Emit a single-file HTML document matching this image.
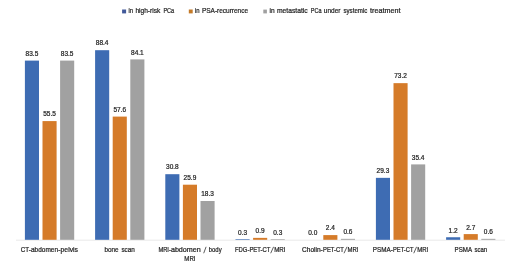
<!DOCTYPE html><html><head><meta charset="utf-8"><style>html,body{margin:0;padding:0;background:#fff}svg{display:block;will-change:transform;opacity:0.999}text{font-family:"Liberation Sans",sans-serif;fill:#262626;stroke:#262626;stroke-width:0.22px}</style></head><body>
<svg width="520" height="271" viewBox="0 0 520 271">
<rect width="520" height="271" fill="#fff"/>
<rect x="16" y="239.7" width="489" height="0.9" fill="#e6e6e6"/>
<rect x="24.90" y="60.60" width="14.1" height="179.20" fill="#3E6CB3"/>
<text transform="translate(31.95,55.70) scale(1.02,1)" font-size="6.4" text-anchor="middle">83.5</text>
<rect x="42.50" y="121.09" width="14.1" height="118.71" fill="#D57B29"/>
<text transform="translate(49.55,116.19) scale(1.02,1)" font-size="6.4" text-anchor="middle">55.5</text>
<rect x="60.10" y="60.60" width="14.1" height="179.20" fill="#A1A1A1"/>
<text transform="translate(67.15,55.70) scale(1.02,1)" font-size="6.4" text-anchor="middle">83.5</text>
<rect x="95.10" y="50.20" width="14.1" height="189.60" fill="#3E6CB3"/>
<text transform="translate(102.15,45.30) scale(1.02,1)" font-size="6.4" text-anchor="middle">88.4</text>
<rect x="112.70" y="116.59" width="14.1" height="123.21" fill="#D57B29"/>
<text transform="translate(119.75,111.69) scale(1.02,1)" font-size="6.4" text-anchor="middle">57.6</text>
<rect x="130.30" y="59.40" width="14.1" height="180.40" fill="#A1A1A1"/>
<text transform="translate(137.35,54.50) scale(1.02,1)" font-size="6.4" text-anchor="middle">84.1</text>
<rect x="165.30" y="174.20" width="14.1" height="65.60" fill="#3E6CB3"/>
<text transform="translate(172.35,169.30) scale(1.02,1)" font-size="6.4" text-anchor="middle">30.8</text>
<rect x="182.90" y="184.70" width="14.1" height="55.10" fill="#D57B29"/>
<text transform="translate(189.95,179.80) scale(1.02,1)" font-size="6.4" text-anchor="middle">25.9</text>
<rect x="200.50" y="201.00" width="14.1" height="38.80" fill="#A1A1A1"/>
<text transform="translate(207.55,196.10) scale(1.02,1)" font-size="6.4" text-anchor="middle">18.3</text>
<rect x="235.50" y="239.16" width="14.1" height="0.64" fill="#3E6CB3"/>
<text transform="translate(242.55,234.71) scale(1.02,1)" font-size="6.4" text-anchor="middle">0.3</text>
<rect x="253.10" y="237.87" width="14.1" height="1.93" fill="#D57B29"/>
<text transform="translate(260.15,233.27) scale(1.02,1)" font-size="6.4" text-anchor="middle">0.9</text>
<rect x="270.70" y="239.16" width="14.1" height="0.64" fill="#A1A1A1"/>
<text transform="translate(277.75,234.81) scale(1.02,1)" font-size="6.4" text-anchor="middle">0.3</text>
<text transform="translate(312.75,235.45) scale(1.02,1)" font-size="6.4" text-anchor="middle">0.0</text>
<rect x="323.30" y="235.10" width="14.1" height="4.70" fill="#D57B29"/>
<text transform="translate(330.35,230.20) scale(1.02,1)" font-size="6.4" text-anchor="middle">2.4</text>
<rect x="340.90" y="238.85" width="14.1" height="0.95" fill="#A1A1A1"/>
<text transform="translate(347.95,233.95) scale(1.02,1)" font-size="6.4" text-anchor="middle">0.6</text>
<rect x="375.90" y="177.85" width="14.1" height="61.95" fill="#3E6CB3"/>
<text transform="translate(382.95,172.95) scale(1.02,1)" font-size="6.4" text-anchor="middle">29.3</text>
<rect x="393.50" y="83.15" width="14.1" height="156.65" fill="#D57B29"/>
<text transform="translate(400.55,78.25) scale(1.02,1)" font-size="6.4" text-anchor="middle">73.2</text>
<rect x="411.10" y="164.40" width="14.1" height="75.40" fill="#A1A1A1"/>
<text transform="translate(418.15,159.50) scale(1.02,1)" font-size="6.4" text-anchor="middle">35.4</text>
<rect x="446.10" y="237.25" width="14.1" height="2.55" fill="#3E6CB3"/>
<text transform="translate(453.15,232.65) scale(1.02,1)" font-size="6.4" text-anchor="middle">1.2</text>
<rect x="463.70" y="234.10" width="14.1" height="5.70" fill="#D57B29"/>
<text transform="translate(470.75,229.55) scale(1.02,1)" font-size="6.4" text-anchor="middle">2.7</text>
<rect x="481.30" y="238.85" width="14.1" height="0.95" fill="#A1A1A1"/>
<text transform="translate(488.35,233.95) scale(1.02,1)" font-size="6.4" text-anchor="middle">0.6</text>
<text x="20.65" y="251.9" font-size="6.6" textLength="10.15" lengthAdjust="spacingAndGlyphs">CT-</text>
<text x="31.0" y="251.9" font-size="6.6" textLength="27.10" lengthAdjust="spacingAndGlyphs">abdomen</text>
<text x="58.3" y="251.9" font-size="6.6" textLength="19.70" lengthAdjust="spacingAndGlyphs">-pelvis</text>
<text x="104.5" y="251.9" font-size="6.6" textLength="14.15" lengthAdjust="spacingAndGlyphs">bone</text>
<text x="121.4" y="251.9" font-size="6.6" textLength="13.40" lengthAdjust="spacingAndGlyphs">scan</text>
<text x="158.4" y="251.9" font-size="6.6" textLength="12.50" lengthAdjust="spacingAndGlyphs">MRI-</text>
<text x="170.9" y="251.9" font-size="6.6" textLength="29.90" lengthAdjust="spacingAndGlyphs">abdomen</text>
<line x1="203.70" y1="253.25" x2="206.10" y2="246.80" stroke="#2a2a2a" stroke-width="0.75"/>
<text x="208.8" y="251.9" font-size="6.6" textLength="12.80" lengthAdjust="spacingAndGlyphs">body</text>
<text x="184.3" y="260.6" font-size="6.6" textLength="11.20" lengthAdjust="spacingAndGlyphs">MRI</text>
<text x="235.0" y="251.9" font-size="6.6" textLength="35.40" lengthAdjust="spacingAndGlyphs">FDG-PET-CT</text>
<line x1="270.70" y1="253.25" x2="273.60" y2="246.80" stroke="#2a2a2a" stroke-width="0.75"/>
<text x="274.2" y="251.9" font-size="6.6" textLength="11.40" lengthAdjust="spacingAndGlyphs">MRI</text>
<text x="302.0" y="251.9" font-size="6.6" textLength="20.80" lengthAdjust="spacingAndGlyphs">Cholin-</text>
<text x="323.0" y="251.9" font-size="6.6" textLength="20.70" lengthAdjust="spacingAndGlyphs">PET-CT</text>
<line x1="344.00" y1="253.25" x2="347.00" y2="246.80" stroke="#2a2a2a" stroke-width="0.75"/>
<text x="347.5" y="251.9" font-size="6.6" textLength="11.00" lengthAdjust="spacingAndGlyphs">MRI</text>
<text x="372.8" y="251.9" font-size="6.6" textLength="20.00" lengthAdjust="spacingAndGlyphs">PSMA-</text>
<text x="393.0" y="251.9" font-size="6.6" textLength="20.45" lengthAdjust="spacingAndGlyphs">PET-CT</text>
<line x1="413.75" y1="253.25" x2="416.60" y2="246.80" stroke="#2a2a2a" stroke-width="0.75"/>
<text x="417.2" y="251.9" font-size="6.6" textLength="11.10" lengthAdjust="spacingAndGlyphs">MRI</text>
<text x="454.6" y="251.9" font-size="6.6" textLength="17.50" lengthAdjust="spacingAndGlyphs">PSMA</text>
<text x="474.4" y="251.9" font-size="6.6" textLength="12.70" lengthAdjust="spacingAndGlyphs">scan</text>
<rect x="122.1" y="9.5" width="4.0" height="3.9" fill="#42599A"/>
<text x="128.5" y="13.4" font-size="6.5" textLength="4.60" lengthAdjust="spacingAndGlyphs">in</text>
<text x="135.4" y="13.4" font-size="6.5" textLength="24.90" lengthAdjust="spacingAndGlyphs">high-risk</text>
<text x="163.4" y="13.4" font-size="6.5" textLength="10.80" lengthAdjust="spacingAndGlyphs">PCa</text>
<rect x="188.8" y="9.5" width="3.9" height="3.9" fill="#C47A28"/>
<text x="195.0" y="13.4" font-size="6.5" textLength="4.60" lengthAdjust="spacingAndGlyphs">in</text>
<text x="201.9" y="13.4" font-size="6.5" textLength="46.20" lengthAdjust="spacingAndGlyphs">PSA-recurrence</text>
<rect x="263.3" y="9.6" width="3.6" height="3.8" fill="#A0A0A0"/>
<text x="269.5" y="13.4" font-size="6.5" textLength="5.10" lengthAdjust="spacingAndGlyphs">in</text>
<text x="276.9" y="13.4" font-size="6.5" textLength="30.80" lengthAdjust="spacingAndGlyphs">metastatic</text>
<text x="310.8" y="13.4" font-size="6.5" textLength="10.70" lengthAdjust="spacingAndGlyphs">PCa</text>
<text x="323.8" y="13.4" font-size="6.5" textLength="16.60" lengthAdjust="spacingAndGlyphs">under</text>
<text x="343.5" y="13.4" font-size="6.5" textLength="23.80" lengthAdjust="spacingAndGlyphs">systemic</text>
<text x="370.1" y="13.4" font-size="6.5" textLength="30.30" lengthAdjust="spacingAndGlyphs">treatment</text>
</svg></body></html>
